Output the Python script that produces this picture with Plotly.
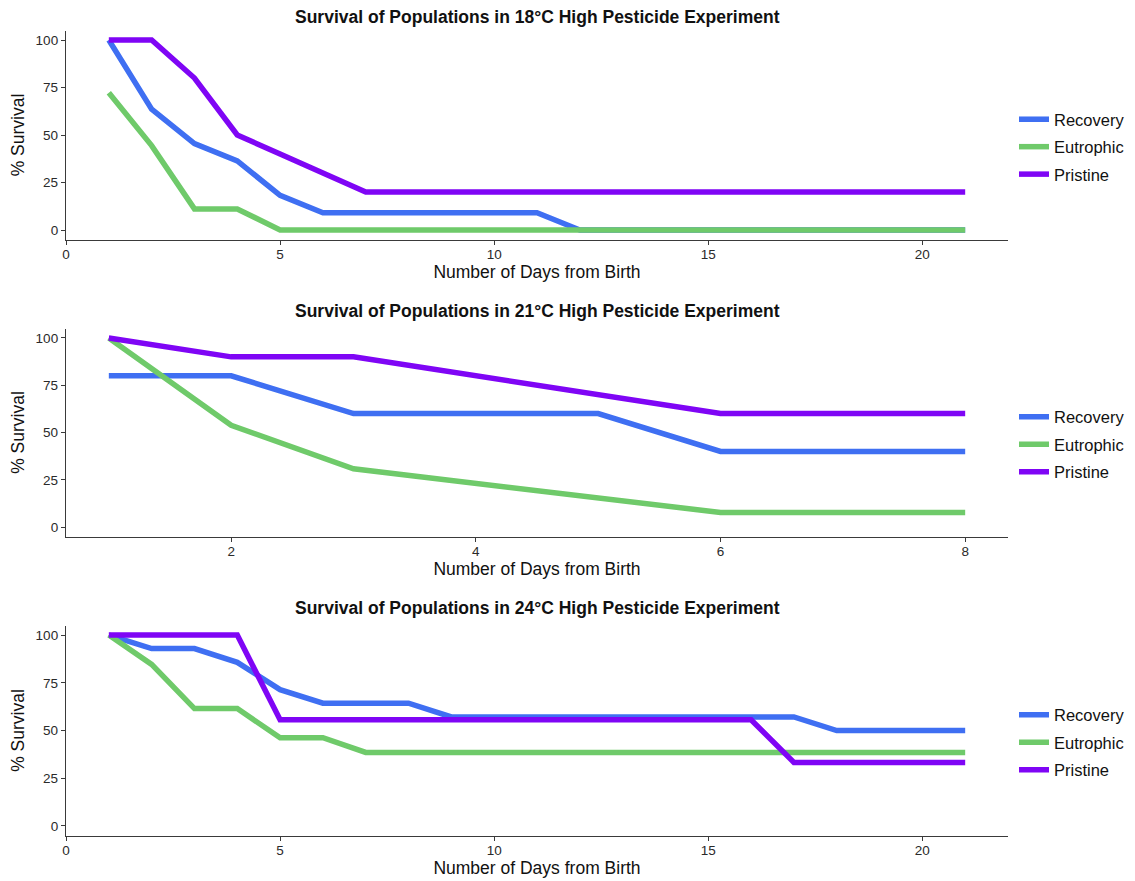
import plotly.graph_objects as go

# ---------------- data ----------------
days_18 = list(range(1, 22))
rec_18 = [100, 63.6, 45.5, 36.4, 18.2, 9.1, 9.1, 9.1, 9.1, 9.1, 9.1, 0, 0, 0, 0, 0, 0, 0, 0, 0, 0]
eut_18 = [72.2, 44.4, 11.1, 11.1, 0, 0, 0, 0, 0, 0, 0, 0, 0, 0, 0, 0, 0, 0, 0, 0, 0]
pri_18 = [100, 100, 80, 50, 40, 30, 20, 20, 20, 20, 20, 20, 20, 20, 20, 20, 20, 20, 20, 20, 20]

days_21 = list(range(1, 9))
rec_21 = [80, 80, 60, 60, 60, 40, 40, 40]
eut_21 = [100, 53.8, 30.8, 23.1, 15.4, 7.7, 7.7, 7.7]
pri_21 = [100, 90, 90, 80, 70, 60, 60, 60]

days_24 = list(range(1, 22))
rec_24 = [100, 92.9, 92.9, 85.7, 71.4, 64.3, 64.3, 64.3, 57.1, 57.1, 57.1, 57.1, 57.1, 57.1,
          57.1, 57.1, 57.1, 50, 50, 50, 50]
eut_24 = [100, 84.6, 61.5, 61.5, 46.2, 46.2, 38.5, 38.5, 38.5, 38.5, 38.5, 38.5, 38.5, 38.5,
          38.5, 38.5, 38.5, 38.5, 38.5, 38.5, 38.5]
pri_24 = [100, 100, 100, 100, 55.6, 55.6, 55.6, 55.6, 55.6, 55.6, 55.6, 55.6, 55.6, 55.6,
          55.6, 55.6, 33.3, 33.3, 33.3, 33.3, 33.3]

series_names = ["Recovery", "Eutrophic", "Pristine"]
temps = ["18", "21", "24"]
y_ticks = [0, 25, 50, 75, 100]
x_ticks_long = [0, 5, 10, 15, 20]
x_ticks_short = [2, 4, 6, 8]

# ---------------- style ----------------
OFF = 8                      # page body margin in the browser
W, H = 1135 - OFF, 881 - OFF  # figure size so that it fills the window
COLORS = ["#3f6ff2", "#6fca6a", "#7f05f5"]
FONT = "Liberation Sans, Arial, Helvetica, sans-serif"
AX_COL = "#3a3a3a"


def px_x(p):
    return (p - OFF) / W


def px_y(p):
    return 1 - (p - OFF) / H


# (plot top px, plot bottom px, title centre px)
panels = [
    (days_18, [rec_18, eut_18, pri_18], [0, 22], x_ticks_long, (30.5, 239.5, 17.5)),
    (days_21, [rec_21, eut_21, pri_21], [0.65, 8.35], x_ticks_short, (328.5, 536.5, 311)),
    (days_24, [rec_24, eut_24, pri_24], [0, 22], x_ticks_long, (625.5, 835.5, 608)),
]

fig = go.Figure()
x0, x1 = px_x(66), px_x(1008)

for i, (days, ys, xr, xt, (ptop, pbot, ttl)) in enumerate(panels):
    k = "" if i == 0 else str(i + 1)
    leg = "legend" if i == 0 else f"legend{i + 1}"
    for j, (name, yv) in enumerate(zip(series_names, ys)):
        fig.add_trace(go.Scatter(
            x=days, y=yv, mode="lines", name=name,
            line=dict(color=COLORS[j], width=5.5),
            xaxis="x" + k, yaxis="y" + k, legend=leg,
            legendgroup=f"{name}{i}", hoverinfo="x+y+name",
        ))
    dom_y = [px_y(pbot), px_y(ptop)]
    common = dict(showline=True, linecolor=AX_COL, linewidth=1.3, ticks="outside",
                  ticklen=4, tickcolor=AX_COL, tickwidth=1, showgrid=False,
                  zeroline=False, automargin=False,
                  tickfont=dict(size=13.5, color="#2a2a2a", family=FONT))
    fig.update_layout(**{
        "xaxis" + k: dict(domain=[x0, x1], range=xr, tickvals=xt, anchor="y" + k,
                          ticklabelstandoff=-2,
                          title=dict(text="Number of Days from Birth", standoff=2,
                                     font=dict(size=17.5, color="#111111", family=FONT)),
                          **common),
        "yaxis" + k: dict(domain=dom_y, range=[-5, 105], tickvals=y_ticks, anchor="x" + k,
                          title=dict(text="% Survival", standoff=8,
                                     font=dict(size=17.5, color="#111111", family=FONT)),
                          **common),
        leg: dict(x=px_x(1014), xanchor="left", y=px_y((ptop + pbot) / 2 - 33), yanchor="top",
                  font=dict(size=16.5, color="#111111", family=FONT),
                  bgcolor="rgba(0,0,0,0)", tracegroupgap=3, itemwidth=30),
    })
    fig.add_annotation(
        text=f"<b>Survival of Populations in {temps[i]}°C High Pesticide Experiment</b>",
        x=(x0 + x1) / 2, xref="paper", y=px_y(ttl), yref="paper",
        xanchor="center", yanchor="middle", showarrow=False,
        font=dict(size=17.5, color="#111111", family=FONT),
    )

fig.update_layout(
    width=W, height=H, margin=dict(l=0, r=0, t=0, b=0, autoexpand=False),
    paper_bgcolor="white", plot_bgcolor="white",
    font=dict(family=FONT), showlegend=True,
)

fig.write_html("out.html")
